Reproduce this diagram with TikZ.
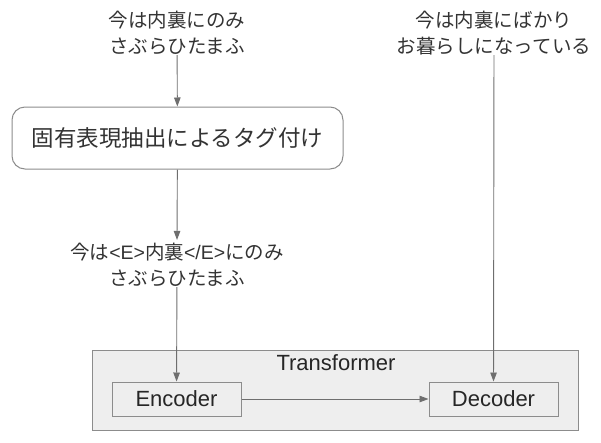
\documentclass[tikz,border=0pt]{standalone}
\usepackage{fontspec}
\setmainfont{Liberation Sans}
\newfontfamily\cjk{Noto Sans CJK JP}
\usetikzlibrary{arrows.meta}
\definecolor{txt}{HTML}{333333}
\definecolor{ln}{HTML}{6E6E6E}
\definecolor{bx}{HTML}{8C8C8C}
\definecolor{fl}{HTML}{EEEEEE}
\tikzset{
  jlabel/.style={align=center, text=txt, inner sep=0pt, font=\cjk\fontsize{19.5}{26}\selectfont},
  nerbox/.style={draw=bx, line width=1pt, rounded corners=13pt, fill=white, minimum width=331pt, minimum height=62pt, text=txt, font=\cjk\fontsize{22.5}{26}\selectfont},
  container/.style={draw=bx, line width=1pt, fill=fl, minimum width=486pt, minimum height=80pt, inner sep=0pt},
  modbox/.style={draw=bx, line width=1pt, fill=fl, minimum width=129pt, minimum height=34pt, inner sep=0pt, text=black!85, font=\fontsize{22}{26}\selectfont},
  arr/.style={draw=ln, line width=0.9pt, -{Triangle[length=9pt,width=6.5pt]}},
}
\begin{document}
\begin{tikzpicture}[x=1pt,y=-1pt]
\useasboundingbox (0,0) rectangle (601,442);
\node[jlabel] (src) at (177,33) {今は内裏にのみ\\さぶらひたまふ};
\node[nerbox] (ner) at (177.5,138) {固有表現抽出によるタグ付け};
\node[jlabel] (tag) at (177,265) {今は{\fontspec{Liberation Sans}<E>}内裏{\fontspec{Liberation Sans}</E>}にのみ\\さぶらひたまふ};
\node[jlabel] (tgt) at (494,33) {今は内裏にばかり\\お暮らしになっている};
\node[container] (tr) at (335,390) {};
\node[text=black!85, font=\fontsize{22}{26}\selectfont] (trl) at (336,363) {Transformer};
\node[modbox] (enc) at (176.5,399) {Encoder};
\node[modbox] (dec) at (493.5,399) {Decoder};
\draw[arr] (src) -- (ner);
\draw[arr] (ner) -- ([yshift=3pt]tag.north);
\draw[arr] (tag) -- (enc);
\draw[arr] (tgt) -- (dec);
\draw[arr] (enc) -- (dec);
\end{tikzpicture}
\end{document}
